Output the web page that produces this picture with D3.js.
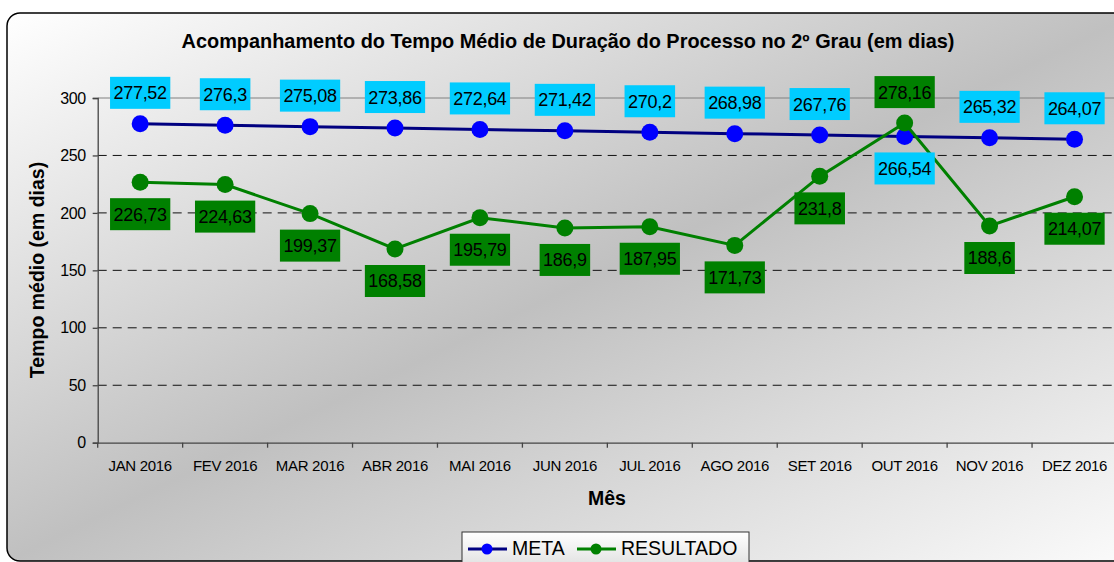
<!DOCTYPE html>
<html>
<head>
<meta charset="utf-8">
<script src="https://cdn.jsdelivr.net/npm/d3@7"></script>
<style>
  body { margin: 0; background: #fff; }
  svg { display: block; font-family: "Liberation Sans", Arial, sans-serif; }
</style>
</head>
<body>
<div id="chart"></div>
<script>
// Data
const months = ['JAN 2016', 'FEV 2016', 'MAR 2016', 'ABR 2016', 'MAI 2016', 'JUN 2016',
                'JUL 2016', 'AGO 2016', 'SET 2016', 'OUT 2016', 'NOV 2016', 'DEZ 2016'];
const meta = [277.52, 276.3, 275.08, 273.86, 272.64, 271.42, 270.2, 268.98, 267.76, 266.54, 265.32, 264.07];
const resultado = [226.73, 224.63, 199.37, 168.58, 195.79, 186.9, 187.95, 171.73, 231.8, 278.16, 188.6, 214.07];
const yTicks = [0, 50, 100, 150, 200, 250, 300];

const title = 'Acompanhamento do Tempo Médio de Duração do Processo no 2º Grau (em dias)';

const width = 1114, height = 562;
const plot = { left: 97.7, right: 1117, top: 98, bottom: 442.7 };

const svg = d3.select('#chart').append('svg')
    .attr('width', width)
    .attr('height', height);

// Background gradient
const defs = svg.append('defs');
const bg = defs.append('linearGradient')
    .attr('id', 'bg')
    .attr('x1', 0).attr('y1', 0).attr('x2', 1).attr('y2', 1);
bg.append('stop').attr('offset', '0%').attr('stop-color', '#ffffff');
bg.append('stop').attr('offset', '50%').attr('stop-color', '#c0c0c0');
bg.append('stop').attr('offset', '100%').attr('stop-color', '#fbfbfb');

const lg = defs.append('linearGradient')
    .attr('id', 'lg')
    .attr('x1', 0).attr('y1', 0).attr('x2', 0).attr('y2', 1);
lg.append('stop').attr('offset', '0%').attr('stop-color', '#ffffff');
lg.append('stop').attr('offset', '100%').attr('stop-color', '#dcdcdc');

svg.append('rect')
    .attr('x', 7).attr('y', 13)
    .attr('width', 1130).attr('height', 548)
    .attr('rx', 13)
    .attr('fill', 'url(#bg)')
    .attr('stroke', '#000')
    .attr('stroke-width', 1.5);

// Scales
const x = d3.scaleBand()
    .domain(months)
    .range([plot.left, plot.right]);

const y = d3.scaleLinear()
    .domain([0, 300])
    .range([plot.bottom, plot.top]);

const cx = d => x(d) + x.bandwidth() / 2;

// Gridlines
svg.append('g')
    .selectAll('line')
    .data(yTicks.filter(t => t > 0))
    .enter().append('line')
        .attr('x1', plot.left).attr('x2', plot.right)
        .attr('y1', d => y(d)).attr('y2', d => y(d))
        .attr('stroke', d => d === 300 ? '#808080' : '#111')
        .attr('stroke-width', 1)
        .attr('stroke-dasharray', d => d === 300 ? null : '9,6');

// Y axis
svg.append('g')
    .attr('transform', `translate(${plot.left},0)`)
    .call(d3.axisLeft(y).tickValues(yTicks).tickSize(5).tickPadding(7))
    .call(g => g.selectAll('path, line').attr('stroke', '#444').attr('stroke-width', 1.3))
    .call(g => g.selectAll('text').attr('font-size', '16px').attr('fill', '#000')
        .attr('letter-spacing', '-0.4px')
        .attr('font-family', '"Liberation Sans", Arial, sans-serif'));

// X axis
svg.append('g')
    .attr('transform', `translate(0,${plot.bottom})`)
    .call(d3.axisBottom(x).tickSize(0).tickPadding(18))
    .call(g => g.select('.domain').attr('stroke', '#444').attr('stroke-width', 1.3))
    .call(g => g.selectAll('text').attr('font-size', '15px').attr('fill', '#000')
        .attr('letter-spacing', '-0.3px')
        .attr('font-family', '"Liberation Sans", Arial, sans-serif'));

// X tick marks at band edges
svg.append('g')
    .selectAll('line')
    .data(months)
    .enter().append('line')
        .attr('x1', d => x(d)).attr('x2', d => x(d))
        .attr('y1', plot.bottom).attr('y2', plot.bottom + 5)
        .attr('stroke', '#444').attr('stroke-width', 1.3);

// Series
const series = [
    { name: 'META', values: meta, line: '#000080', dot: '#0000ff', box: '#00ccff' },
    { name: 'RESULTADO', values: resultado, line: '#008000', dot: '#008000', box: '#008000' }
];

const lineGen = d3.line()
    .x((d, i) => cx(months[i]))
    .y(d => y(d));

series.forEach(s => {
    svg.append('path')
        .datum(s.values)
        .attr('fill', 'none')
        .attr('stroke', s.line)
        .attr('stroke-width', 3)
        .attr('d', lineGen);

    svg.append('g')
        .selectAll('circle')
        .data(s.values)
        .enter().append('circle')
            .attr('cx', (d, i) => cx(months[i]))
            .attr('cy', d => y(d))
            .attr('r', 8.5)
            .attr('fill', s.dot);
});

// Data labels
const fmt = v => String(v).replace('.', ',');

series.forEach((s, si) => {
    const other = series[1 - si].values;
    s.values.forEach((v, i) => {
        const above = v >= other[i];
        const ly = y(v) + (above ? -31 : 32);
        const g = svg.append('g');
        const t = g.append('text')
            .attr('x', cx(months[i]))
            .attr('y', ly)
            .attr('dy', '0.36em')
            .attr('text-anchor', 'middle')
            .attr('font-size', '18px')
            .attr('letter-spacing', '-0.3px')
            .attr('fill', '#000')
            .text(fmt(v));
        const w = t.node().getComputedTextLength() + 7;
        g.insert('rect', 'text')
            .attr('x', cx(months[i]) - w / 2)
            .attr('y', ly - 16)
            .attr('width', w)
            .attr('height', 32)
            .attr('fill', s.box);
    });
});

// Titles
svg.append('text')
    .attr('x', 568)
    .attr('y', 48)
    .attr('text-anchor', 'middle')
    .attr('font-size', '19.9px')
    .attr('font-weight', 'bold')
    .text(title);

svg.append('text')
    .attr('transform', 'translate(44,270) rotate(-90)')
    .attr('text-anchor', 'middle')
    .attr('font-size', '19.5px')
    .attr('font-weight', 'bold')
    .text('Tempo médio (em dias)');

svg.append('text')
    .attr('x', 607)
    .attr('y', 505)
    .attr('text-anchor', 'middle')
    .attr('font-size', '19.5px')
    .attr('font-weight', 'bold')
    .text('Mês');

// Legend
const legend = svg.append('g');
legend.append('rect')
    .attr('x', 462).attr('y', 532)
    .attr('width', 287).attr('height', 40)
    .attr('fill', 'url(#lg)')
    .attr('stroke', '#333')
    .attr('stroke-width', 1);

const legX = [468, 577];
series.forEach((s, i) => {
    const lx = legX[i];
    legend.append('line')
        .attr('x1', lx).attr('x2', lx + 39)
        .attr('y1', 549).attr('y2', 549)
        .attr('stroke', s.line).attr('stroke-width', 3);
    legend.append('circle')
        .attr('cx', lx + 19).attr('cy', 549).attr('r', 5.5)
        .attr('fill', s.dot);
    legend.append('text')
        .attr('x', lx + 44).attr('y', 555)
        .attr('font-size', '19.5px')
        .text(s.name);
});
</script>
</body>
</html>
